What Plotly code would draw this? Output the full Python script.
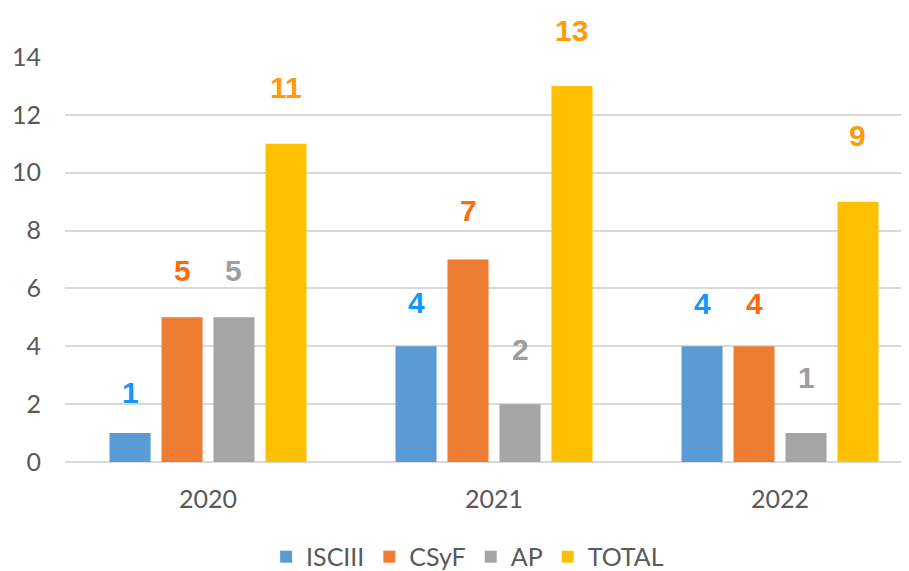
import plotly.graph_objects as go

years = ["2020", "2021", "2022"]
series_names = ["ISCIII", "CSyF", "AP", "TOTAL"]
isciii = [1, 4, 4]
csyf = [5, 7, 4]
ap = [5, 2, 1]
total = [11, 13, 9]
y_ticks = [0, 2, 4, 6, 8, 10, 12, 14]

series_values = [isciii, csyf, ap, total]
bar_colors = ["#5B9BD5", "#ED7D31", "#A5A5A5", "#FFC000"]
label_colors = ["#1496FA", "#FF6A0D", "#9E9E9E", "#FF9A0A"]
# vertical pixel shift of each value label above its bar top (style)
label_shift = [
    [41, 44, 43],
    [47, 49, 43],
    [47, 55, 56],
    [56, 55, 66],
]

BARGAP = 0.273
n_series = len(series_names)
slot = (1 - BARGAP) / n_series
x_idx = list(range(len(years)))

fig = go.Figure()
for j, (name, vals) in enumerate(zip(series_names, series_values)):
    fig.add_trace(go.Bar(
        x=x_idx, y=vals, name=name,
        marker=dict(color=bar_colors[j], line=dict(width=0)),
        hoverinfo="skip",
    ))
    for i, v in enumerate(vals):
        fig.add_annotation(
            x=i + (j - (n_series - 1) / 2) * slot, y=v,
            text=str(v), showarrow=False,
            xref="x", yref="y", yanchor="middle", xanchor="center",
            yshift=label_shift[j][i],
            font=dict(family="Liberation Sans, Arial, sans-serif", size=30,
                      color=label_colors[j], weight="bold"),
        )

# page body has an 8px default margin, so the figure is drawn 8px smaller
fig.update_layout(
    width=901, height=563,
    margin=dict(l=57, r=0, t=49, b=109, autoexpand=False),
    paper_bgcolor="white", plot_bgcolor="white",
    barmode="group", bargap=BARGAP, bargroupgap=0.21,
    showlegend=True,
    legend=dict(
        orientation="h", x=0.477, xanchor="center",
        yref="container", y=0.025, yanchor="middle",
        font=dict(family="Lato, Open Sans, sans-serif", size=25, color="#595959"),
        itemwidth=30, traceorder="normal",
    ),
    font=dict(family="Lato, Open Sans, sans-serif", color="#595959"),
)
fig.update_xaxes(
    range=[-0.5, 2.451], tickvals=x_idx, ticktext=years,
    showgrid=False, zeroline=False, showline=False,
    tickfont=dict(family="Lato, Open Sans, sans-serif", size=25, color="#595959"),
    ticks="", ticklabelstandoff=20, automargin=False,
)
fig.update_yaxes(
    range=[0, 14], tickvals=y_ticks,
    showgrid=True, gridcolor="#D9D9D9", gridwidth=1.5,
    zeroline=True, zerolinecolor="#D9D9D9", zerolinewidth=1.5,
    showline=False, ticks="", ticklabelstandoff=23, automargin=False,
    tickfont=dict(family="Lato, Open Sans, sans-serif", size=25, color="#595959"),
)

fig.write_html("out.html")
